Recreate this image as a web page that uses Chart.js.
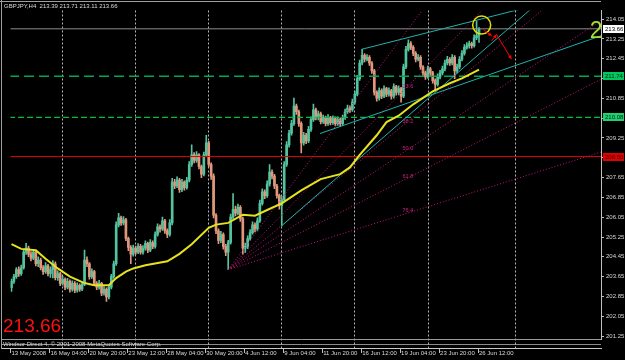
<!DOCTYPE html>
<html>
<head>
<meta charset="utf-8">
<script src="https://cdn.jsdelivr.net/npm/chart.js@4.4.1/dist/chart.umd.min.js"></script>
<style>
  html, body { margin: 0; padding: 0; background: #000; }
</style>
</head>
<body>
<canvas id="gbpjpy" width="625" height="360"></canvas>
<script>
// ---- values (GBPJPY H4, 13 May - 26 Jun 2008) ----
var symbolTitle = 'GBPJPY,H4  213.39 213.71 213.11 213.66';
var lastPrice = 213.66;

var tickBars = [0, 16, 32, 48, 64, 80, 96, 112, 128, 144, 160, 176, 192];
var tickLabels = ['13 May 2008', '16 May 04:00', '20 May 20:00', '23 May 12:00', '28 May 04:00',
  '30 May 20:00', '4 Jun 12:00', '9 Jun 04:00', '11 Jun 20:00', '16 Jun 12:00',
  '19 Jun 04:00', '23 Jun 20:00', '26 Jun 12:00'];
var priceTicks = [214.05, 213.25, 212.45, 211.65, 210.85, 210.05, 209.25, 208.45, 207.65,
  206.85, 206.05, 205.25, 204.45, 203.65, 202.85, 202.05, 201.25];
var gridBars = [20.6, 50.9, 80.8, 110.8, 140.8, 170.9, 206.8];

var openP = [203.20,203.46,203.65,203.93,203.77,204.01,204.64,204.80,204.56,204.40,
 204.64,204.17,204.32,204.01,203.85,204.09,203.77,203.93,204.17,203.61,
 203.77,203.38,203.54,203.22,203.46,203.14,203.38,203.10,203.30,203.14,
 203.34,204.32,204.17,203.65,203.85,203.38,203.22,203.38,202.98,203.14,
 202.83,203.22,203.65,204.17,205.74,206.02,205.82,205.94,205.19,204.83,
 204.56,204.80,204.64,204.87,204.64,204.80,204.99,204.72,205.03,204.87,
 205.35,205.66,205.58,205.90,205.50,205.35,205.82,207.47,207.31,207.55,
 207.16,207.47,207.24,207.55,208.18,208.57,208.34,208.57,208.10,207.79,
 208.57,209.05,208.18,207.71,206.13,205.50,205.11,205.35,204.87,204.64,
 205.03,206.05,206.37,206.21,206.45,205.98,204.80,204.87,205.19,205.43,
 205.74,205.58,205.90,206.61,207.08,206.92,207.39,207.87,207.71,207.31,
 206.92,206.53,206.76,208.18,208.97,209.44,209.83,210.54,210.31,209.83,
 209.05,209.36,209.13,209.60,209.99,210.39,210.07,210.23,209.91,210.07,
 209.83,210.07,209.87,210.03,209.83,209.99,209.83,210.07,210.31,210.46,
 210.39,210.70,211.02,211.65,212.28,212.59,212.43,212.51,212.28,211.96,
 211.09,210.86,211.17,210.94,211.25,211.02,211.17,210.94,211.33,211.09,
 211.25,210.94,212.12,212.83,213.06,212.91,212.67,212.43,212.51,212.12,
 211.88,211.72,212.04,211.88,211.57,211.41,211.72,211.88,212.04,212.28,
 212.43,212.28,212.51,211.96,212.12,212.43,212.67,212.91,212.98,213.06,
 212.98,213.30,213.39];
var highP = [203.55,203.74,204.02,204.05,204.12,204.76,204.99,204.88,204.66,204.75,
 204.70,204.45,204.40,204.10,204.22,204.15,204.05,204.30,204.25,203.88,
 203.82,203.66,203.60,203.58,203.52,203.48,203.45,203.40,203.36,203.44,
 204.72,204.45,204.22,203.96,203.90,203.45,203.50,203.42,203.25,203.20,
 203.30,203.74,204.28,205.86,206.21,206.10,206.08,206.00,205.25,204.90,
 204.92,204.88,204.98,204.95,204.90,205.10,205.05,205.15,205.10,205.46,
 205.78,205.74,206.05,205.96,205.58,205.95,207.62,207.58,207.68,207.62,
 207.58,207.52,207.66,208.30,208.97,208.66,208.70,208.62,208.16,208.68,
 209.36,209.12,208.25,207.80,206.20,205.58,205.48,205.42,204.95,205.12,
 206.18,207.00,206.50,206.58,206.52,206.05,205.00,205.30,205.55,205.86,
 205.82,206.02,206.74,207.20,207.16,207.52,208.18,207.96,207.78,207.38,
 206.98,206.88,208.30,209.10,209.56,209.96,210.86,210.62,210.38,209.90,
 209.48,209.44,209.72,210.10,210.62,210.46,210.34,210.30,210.18,210.14,
 210.20,210.12,210.15,210.10,210.10,210.06,210.18,210.42,210.58,210.55,
 210.82,211.14,211.78,212.40,212.83,212.66,212.62,212.58,212.34,212.02,
 211.16,211.28,211.24,211.36,211.30,211.28,211.22,211.44,211.38,211.36,
 211.30,212.24,212.95,213.22,213.14,212.98,212.74,212.62,212.58,212.18,
 211.95,212.15,212.10,211.94,211.64,211.84,211.98,212.15,212.40,212.55,
 212.50,212.62,212.58,212.24,212.54,212.78,213.02,213.10,213.16,213.12,
 213.42,213.97,213.71];
var lowP = [203.05,203.38,203.58,203.66,203.70,203.95,204.55,204.46,204.28,204.33,
 204.08,204.05,203.92,203.74,203.78,203.68,203.62,203.60,203.52,203.50,
 203.28,203.30,203.12,203.15,203.02,203.06,203.00,203.02,203.05,203.08,
 203.28,204.05,203.55,203.58,203.28,203.12,203.14,202.88,202.90,202.65,
 202.75,203.15,203.58,204.10,205.66,205.72,205.74,205.10,204.70,204.17,
 204.48,204.55,204.58,204.56,204.56,204.72,204.62,204.66,204.78,204.80,
 205.28,205.45,205.52,205.40,205.22,205.28,205.74,207.20,207.24,207.05,
 207.08,207.14,207.18,207.48,208.10,208.24,208.26,208.00,207.65,207.72,
 208.50,208.08,207.58,206.02,205.38,204.98,205.02,204.76,204.50,203.93,
 204.96,205.98,206.10,206.14,205.88,204.56,204.62,204.78,205.12,205.36,
 205.46,205.50,205.84,206.54,206.80,206.85,207.30,207.60,207.20,206.82,
 206.37,205.70,206.68,208.10,208.88,209.36,209.76,210.20,209.72,208.65,
 208.96,209.02,209.06,209.52,209.92,209.98,209.98,209.82,209.84,209.74,
 209.76,209.78,209.80,209.74,209.76,209.72,209.76,210.00,210.24,210.28,
 210.32,210.62,210.96,211.58,212.20,212.32,212.36,212.18,211.86,210.98,
 210.74,210.78,210.84,210.88,210.92,210.94,210.82,210.86,210.98,211.00,
 210.70,210.88,212.05,212.76,212.82,212.58,212.32,212.36,212.02,211.78,
 211.62,211.66,211.78,211.46,211.14,211.34,211.64,211.80,211.96,212.20,
 212.18,212.20,211.65,211.88,212.04,212.36,212.60,212.84,212.88,212.88,
 212.92,213.22,213.11];
var closeP = [203.46,203.65,203.93,203.77,204.01,204.64,204.80,204.56,204.40,204.64,
 204.17,204.32,204.01,203.85,204.09,203.77,203.93,204.17,203.61,203.77,
 203.38,203.54,203.22,203.46,203.14,203.38,203.10,203.30,203.14,203.34,
 204.32,204.17,203.65,203.85,203.38,203.22,203.38,202.98,203.14,202.83,
 203.22,203.65,204.17,205.74,206.02,205.82,205.94,205.19,204.83,204.56,
 204.80,204.64,204.87,204.64,204.80,204.99,204.72,205.03,204.87,205.35,
 205.66,205.58,205.90,205.50,205.35,205.82,207.47,207.31,207.55,207.16,
 207.47,207.24,207.55,208.18,208.57,208.34,208.57,208.10,207.79,208.57,
 209.05,208.18,207.71,206.13,205.50,205.11,205.35,204.87,204.64,205.03,
 206.05,206.37,206.21,206.45,205.98,204.80,204.87,205.19,205.43,205.74,
 205.58,205.90,206.61,207.08,206.92,207.39,207.87,207.71,207.31,206.92,
 206.53,206.76,208.18,208.97,209.44,209.83,210.54,210.31,209.83,209.05,
 209.36,209.13,209.60,209.99,210.39,210.07,210.23,209.91,210.07,209.83,
 210.07,209.87,210.03,209.83,209.99,209.83,210.07,210.31,210.46,210.39,
 210.70,211.02,211.65,212.28,212.59,212.43,212.51,212.28,211.96,211.09,
 210.86,211.17,210.94,211.25,211.02,211.17,210.94,211.33,211.09,211.25,
 210.94,212.12,212.83,213.06,212.91,212.67,212.43,212.51,212.12,211.88,
 211.72,212.04,211.88,211.57,211.41,211.72,211.88,212.04,212.28,212.43,
 212.28,212.51,211.96,212.12,212.43,212.67,212.91,212.98,213.06,212.98,
 213.30,213.39,213.66];

// yellow moving average, read at a few bars
var maBars = [0,4,10,14,19,24,30,34,40,43,47,50,55,64,69,74,81,84,89,95,100,105,111,119,127,135,139,143,150,154,159,165,173,180,185,192];
var maValues = [204.96,204.77,204.72,204.37,203.98,203.65,203.39,203.30,203.30,203.59,203.85,203.98,204.11,204.27,204.57,204.96,205.62,205.75,205.82,206.15,206.11,206.34,206.61,207.13,207.59,207.79,208.06,208.57,209.36,209.89,210.15,210.61,211.13,211.46,211.66,212.01];

// horizontal levels
var levelA = 211.74;
var levelB = 210.08;
var levelR = 208.50;

// trend lines [bar, price] pairs
var upperWedge = [[143.7, 212.83], [242.1, 215.28]];
var lowerWedge = [[126.7, 209.43], [242.1, 213.38]];
var steepLine = [[110.8, 205.69], [242.1, 216.92]];

// fibonacci fan
var fanStart = [89, 203.93];
var fanEnd = [161, 213.40];
var fanLevels = [0, 23.6, 38.2, 50.0, 61.8, 76.4];

// red arrows and the yellow circle
var arrows = [
  [[193.8, 213.63], [197.2, 213.37]],
  [[197.2, 213.17], [199.2, 213.43]],
  [[199.2, 213.43], [205.3, 212.44]]
];
var circleAt = [193.1, 213.81];
var waveMark = '2';
var waveAt = [237.5, 213.30];

// ---- styling ----
var FONT = "'Liberation Sans', Arial, sans-serif";
var UP = '#52c4a0', DOWN = '#e0977c';

var candleColors = openP.map(function (o, i) { return closeP[i] >= o ? UP : DOWN; });
var wicks = lowP.map(function (l, i) { return { x: i, y: [l, highP[i]] }; });
var bodies = openP.map(function (o, i) { return { x: i, y: [o, closeP[i]] }; });

function seg(pair) { return pair.map(function (p) { return { x: p[0], y: p[1] }; }); }
function hline(v) { return [{ x: -1, y: v }, { x: 243, y: v }]; }
function lineSet(data, color, width, dash, order) {
  return { type: 'line', data: data, borderColor: color, borderWidth: width, borderDash: dash || [],
    pointRadius: 0, fill: false, order: order || 1 };
}

var fanSets = fanLevels.map(function (lv) {
  var p = fanEnd[1] - (fanEnd[1] - fanStart[1]) * lv / 100;
  var k = (p - fanStart[1]) / (fanEnd[0] - fanStart[0]);
  return lineSet([{ x: fanStart[0], y: fanStart[1] }, { x: 243, y: fanStart[1] + k * (243 - fanStart[0]) }],
    '#c8157a', 1, [1, 2], 3);
});

var maData = maBars.map(function (b, i) { return { x: b, y: maValues[i] }; });

var mt4Chrome = {
  id: 'mt4Chrome',
  beforeDraw: function (chart) {
    var ctx = chart.ctx;
    ctx.save();
    ctx.fillStyle = '#000';
    ctx.fillRect(0, 0, chart.width, chart.height);
    ctx.restore();
  },
  beforeDatasetsDraw: function (chart) {
    var ctx = chart.ctx, a = chart.chartArea, x = chart.scales.x;
    ctx.save();
    ctx.strokeStyle = '#b4b4b4';
    ctx.lineWidth = 1;
    ctx.setLineDash([2, 2]);
    gridBars.forEach(function (b) {
      var px = Math.round(x.getPixelForValue(b)) + 0.5;
      ctx.beginPath(); ctx.moveTo(px, a.top); ctx.lineTo(px, a.bottom + 9); ctx.stroke();
    });
    ctx.restore();
  },
  afterDraw: function (chart) {
    var ctx = chart.ctx, a = chart.chartArea, x = chart.scales.x, y = chart.scales.y;
    ctx.save();

    // frame
    ctx.strokeStyle = '#a0a0a0'; ctx.lineWidth = 1;
    ctx.beginPath(); ctx.moveTo(0, 1.5); ctx.lineTo(a.right, 1.5); ctx.stroke();
    ctx.beginPath(); ctx.moveTo(1.5, 0); ctx.lineTo(1.5, a.bottom + 10); ctx.stroke();

    // separator strip with copyright
    ctx.strokeStyle = '#9a9a9a';
    ctx.beginPath(); ctx.moveTo(2, a.bottom + 0.5); ctx.lineTo(a.right, a.bottom + 0.5); ctx.stroke();
    ctx.strokeStyle = '#c8c8c8';
    ctx.beginPath(); ctx.moveTo(2, a.bottom + 9.5); ctx.lineTo(a.right + 1, a.bottom + 9.5); ctx.stroke();
    ctx.fillStyle = '#d8d8d8';
    ctx.font = '6px ' + FONT;
    ctx.textBaseline = 'middle'; ctx.textAlign = 'left';
    ctx.fillText('Windsor Direct 4, \u00a9 2001-2008 MetaQuotes Software Corp.', 3, a.bottom + 5);
    ctx.strokeStyle = 'rgba(200,200,200,0.7)';
    ctx.beginPath(); ctx.moveTo(2, a.bottom + 5.5); ctx.lineTo(a.right, a.bottom + 5.5); ctx.stroke();

    // time axis tick marks
    ctx.strokeStyle = '#c0c0c0';
    tickBars.forEach(function (b) {
      var px = Math.round(x.getPixelForValue(b)) - 0.5;
      ctx.beginPath(); ctx.moveTo(px, a.bottom + 10); ctx.lineTo(px, a.bottom + 14); ctx.stroke();
    });

    // price boxes on the axis
    [[lastPrice, '#ffffff', '#000000'], [levelA, '#00c860', '#002010'],
     [levelB, '#20d070', '#002010'], [levelR, '#e00000', '#300000']].forEach(function (bx) {
      var py = y.getPixelForValue(bx[0]);
      ctx.fillStyle = bx[1];
      ctx.fillRect(a.right + 2, Math.round(py) - 4, 21, 8);
      ctx.fillStyle = bx[2];
      ctx.font = '6px ' + FONT;
      ctx.textBaseline = 'middle';
      ctx.fillText(bx[0].toFixed(2), a.right + 4, Math.round(py));
    });

    // fib fan labels
    ctx.fillStyle = '#d0207f';
    ctx.font = '5.5px ' + FONT;
    ctx.textBaseline = 'bottom';
    fanLevels.forEach(function (lv) {
      if (lv === 0) return;
      var p = fanEnd[1] - (fanEnd[1] - fanStart[1]) * lv / 100;
      ctx.fillText(lv.toFixed(1), x.getPixelForValue(fanEnd[0]) - 1, y.getPixelForValue(p) - 1);
    });

    // red arrows
    ctx.strokeStyle = '#ff0000'; ctx.fillStyle = '#ff0000'; ctx.lineWidth = 1;
    arrows.forEach(function (ar) {
      var x0 = x.getPixelForValue(ar[0][0]), y0 = y.getPixelForValue(ar[0][1]);
      var x1 = x.getPixelForValue(ar[1][0]), y1 = y.getPixelForValue(ar[1][1]);
      ctx.beginPath(); ctx.moveTo(x0, y0); ctx.lineTo(x1, y1); ctx.stroke();
      var ang = Math.atan2(y1 - y0, x1 - x0), s = 4;
      ctx.beginPath();
      ctx.moveTo(x1, y1);
      ctx.lineTo(x1 - s * Math.cos(ang - 0.5), y1 - s * Math.sin(ang - 0.5));
      ctx.lineTo(x1 - s * Math.cos(ang + 0.5), y1 - s * Math.sin(ang + 0.5));
      ctx.closePath(); ctx.fill();
    });

    // wave mark
    ctx.fillStyle = '#a4e030';
    ctx.font = '23px ' + FONT;
    ctx.textBaseline = 'alphabetic';
    ctx.fillText(waveMark, x.getPixelForValue(waveAt[0]), y.getPixelForValue(waveAt[1]));

    // title and big price label
    ctx.fillStyle = '#dcdcdc';
    ctx.font = '6px ' + FONT;
    ctx.textBaseline = 'middle';
    ctx.fillText(symbolTitle, 4, 6.5);
    ctx.fillStyle = '#ff1010';
    ctx.font = '19px ' + FONT;
    ctx.textBaseline = 'alphabetic';
    ctx.fillText(lastPrice.toFixed(2), 3, 332);

    ctx.restore();
  }
};

new Chart(document.getElementById('gbpjpy'), {
  type: 'bar',
  data: {
    datasets: [
      { type: 'line', data: [{ x: circleAt[0], y: circleAt[1] }], showLine: false, pointStyle: 'circle',
        pointRadius: 9, pointBackgroundColor: 'rgba(0,0,0,0)', pointBorderColor: '#e8e000', pointBorderWidth: 1.5, order: 0 },
      lineSet(maData, '#e6e21e', 2, [], 1),
      lineSet(seg(upperWedge), '#20b2aa', 1, [], 2),
      lineSet(seg(lowerWedge), '#20b2aa', 1, [], 2),
      lineSet(seg(steepLine), '#20b2aa', 1, [], 2),
      lineSet(hline(lastPrice), '#8c8c8c', 1, [], 4),
      lineSet(hline(levelA), '#00a850', 1.5, [10, 5], 4),
      lineSet(hline(levelB), '#00c040', 1.2, [6, 3], 4),
      lineSet(hline(levelR), '#e00000', 1, [], 4)
    ].concat(fanSets).concat([
      { type: 'bar', data: bodies, backgroundColor: candleColors, barThickness: 2, grouped: false, borderWidth: 0, order: 9 },
      { type: 'bar', data: wicks, backgroundColor: candleColors, barThickness: 1, grouped: false, borderWidth: 0, order: 10 }
    ])
  },
  options: {
    responsive: false,
    animation: false,
    devicePixelRatio: 1,
    layout: { padding: { left: 2, top: 2, right: 0, bottom: 0 } },
    plugins: { legend: { display: false }, tooltip: { enabled: false } },
    scales: {
      x: {
        type: 'linear', min: -0.405, max: 242.1, offset: false,
        grid: { display: false, drawTicks: false }, border: { display: false },
        afterBuildTicks: function (s) { s.ticks = tickBars.map(function (v) { return { value: v }; }); },
        afterFit: function (s) { s.height = 21; },
        ticks: {
          autoSkip: false, maxRotation: 0, align: 'start', padding: 11, color: '#d8d8d8',
          font: { family: FONT, size: 6 },
          callback: function (v) { return tickLabels[tickBars.indexOf(v)]; }
        }
      },
      y: {
        type: 'linear', position: 'right', min: 201.13, max: 214.40,
        grid: { drawOnChartArea: false, color: '#c0c0c0', tickLength: 3 },
        border: { color: '#c0c0c0' },
        afterBuildTicks: function (s) { s.ticks = priceTicks.map(function (v) { return { value: v }; }); },
        afterFit: function (s) { s.width = 24; },
        ticks: {
          color: '#d8d8d8', padding: 2, font: { family: FONT, size: 6 },
          callback: function (v) { return v.toFixed(2); }
        }
      }
    }
  },
  plugins: [mt4Chrome]
});
</script>
</body>
</html>
